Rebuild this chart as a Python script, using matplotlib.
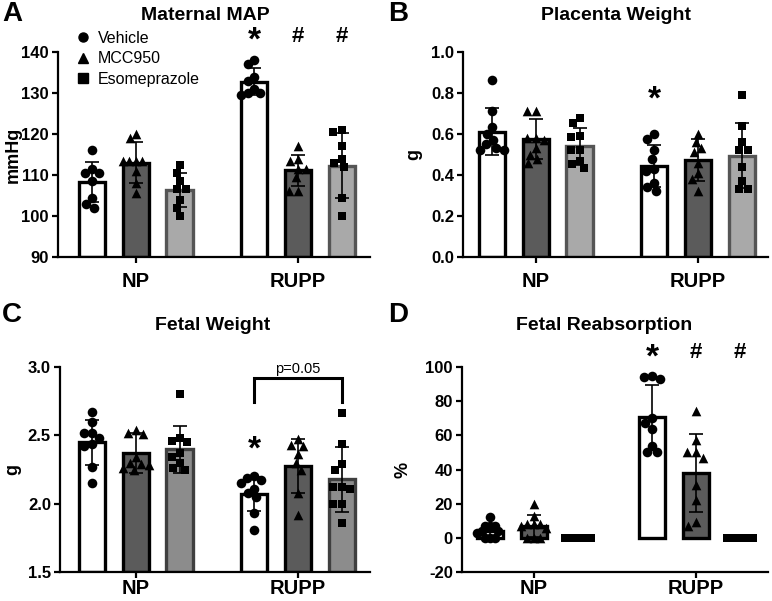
import matplotlib
matplotlib.use("Agg")
import matplotlib.pyplot as plt
from matplotlib.lines import Line2D
from matplotlib.transforms import ScaledTranslation
import numpy as np

plt.rcParams['font.family'] = ['Liberation Sans', 'DejaVu Sans']

groups = ["NP", "RUPP"]
treatments = ["Vehicle", "MCC950", "Esomeprazole"]
markers = ["o", "^", "s"]

# panel A - maternal MAP (mmHg)
map_points = {
    ("NP", "Vehicle"): [116, 110.5, 111.5, 110.5, 108.5, 104.5, 102, 103],
    ("NP", "MCC950"): [120, 119, 113.5, 113.5, 113.5, 113.5, 111, 108, 105.5],
    ("NP", "Esomeprazole"): [112.5, 110.5, 108.5, 106.5, 106.5, 104, 102, 100],
    ("RUPP", "Vehicle"): [138, 137, 134, 133, 131, 130, 130, 129.5],
    ("RUPP", "MCC950"): [117, 114, 113.5, 111.5, 111.5, 109.5, 106, 106],
    ("RUPP", "Esomeprazole"): [121, 120.5, 117, 114, 113, 112, 104.5, 100],
}
map_mean = [108.3, 113.0, 106.3, 132.8, 111.1, 112.3]
map_sd = [4.9, 5.0, 4.2, 3.4, 3.9, 8.0]

# panel B - placenta weight (g)
plac_points = {
    ("NP", "Vehicle"): [0.865, 0.71, 0.635, 0.60, 0.57, 0.55, 0.53, 0.52, 0.52],
    ("NP", "MCC950"): [0.71, 0.71, 0.58, 0.58, 0.57, 0.53, 0.50, 0.48, 0.46],
    ("NP", "Esomeprazole"): [0.68, 0.655, 0.59, 0.585, 0.52, 0.52, 0.47, 0.455, 0.435],
    ("RUPP", "Vehicle"): [0.60, 0.575, 0.52, 0.48, 0.43, 0.42, 0.36, 0.34, 0.32],
    ("RUPP", "MCC950"): [0.60, 0.56, 0.53, 0.51, 0.46, 0.41, 0.38, 0.32],
    ("RUPP", "Esomeprazole"): [0.79, 0.64, 0.56, 0.52, 0.52, 0.44, 0.37, 0.33, 0.33],
}
plac_mean = [0.611, 0.576, 0.541, 0.444, 0.473, 0.494]
plac_sd = [0.114, 0.096, 0.090, 0.102, 0.101, 0.158]

# panel C - fetal weight (g)
fetal_points = {
    ("NP", "Vehicle"): [2.67, 2.60, 2.52, 2.52, 2.48, 2.44, 2.42, 2.27, 2.15],
    ("NP", "MCC950"): [2.54, 2.52, 2.51, 2.34, 2.30, 2.29, 2.28, 2.26, 2.25],
    ("NP", "Esomeprazole"): [2.80, 2.48, 2.46, 2.45, 2.37, 2.34, 2.30, 2.26, 2.25],
    ("RUPP", "Vehicle"): [2.20, 2.19, 2.17, 2.15, 2.11, 2.08, 2.05, 1.93, 1.81],
    ("RUPP", "MCC950"): [2.47, 2.43, 2.42, 2.36, 2.30, 2.25, 2.08, 1.92],
    ("RUPP", "Esomeprazole"): [2.66, 2.44, 2.29, 2.25, 2.12, 2.11, 2.12, 2.00, 2.00, 1.86],
}
fetal_mean = [2.449, 2.373, 2.398, 2.071, 2.276, 2.178]
fetal_sd = [0.163, 0.147, 0.173, 0.124, 0.197, 0.239]

# panel D - fetal reabsorption (%)
reab_points = {
    ("NP", "Vehicle"): [12, 7, 7, 7, 4, 4, 3, 0, 0, 0],
    ("NP", "MCC950"): [20, 13, 8, 8, 8, 7, 6, 0, 0, 0],
    ("NP", "Esomeprazole"): [0, 0, 0, 0, 0, 0, 0, 0, 0],
    ("RUPP", "Vehicle"): [94, 93, 95, 70, 67, 64, 54, 50, 50],
    ("RUPP", "MCC950"): [74, 57, 50, 50, 47, 31, 22, 9, 7],
    ("RUPP", "Esomeprazole"): [0, 0, 0, 0, 0, 0, 0, 0, 0],
}
reab_mean = [4.2, 7.0, 0.0, 70.5, 38.0, 0.0]
reab_sd = [3.8, 6.6, 0.0, 18.8, 23.0, 0.0]

GAP = 3.7
BAR_W = 0.6
SPACING_PX = 43.8

# significance marks: (bar index, symbol, y in data units)
panels = [
    dict(letter="A", title="Maternal MAP", ylabel="mmHg", pts=map_points, mean=map_mean, sd=map_sd,
         ylim=(90, 140), yticks=np.arange(90, 141, 10), fmt="{:.0f}",
         px=(58, 370, 52, 257), title_x=205, title_y=15, letter_xy=(2, 14), ylab_x=13, xpad=6.5,
         eso_fill="#a9a9a9", eso_edge="#555555",
         marks=[(3, "*", 143.9), (4, "#", 143.9), (5, "#", 143.9)]),
    dict(letter="B", title="Placenta Weight", ylabel="g", pts=plac_points, mean=plac_mean, sd=plac_sd,
         ylim=(0, 1.0), yticks=np.arange(0, 1.01, 0.2), fmt="{:.1f}",
         px=(463, 768, 52, 257), title_x=616, title_y=15, letter_xy=(388, 14), ylab_x=414, xpad=6.5,
         eso_fill="#a9a9a9", eso_edge="#555555",
         marks=[(3, "*", 0.79)]),
    dict(letter="C", title="Fetal Weight", ylabel="g", pts=fetal_points, mean=fetal_mean, sd=fetal_sd,
         ylim=(1.5, 3.0), yticks=np.arange(1.5, 3.01, 0.5), fmt="{:.1f}",
         px=(60, 370, 367, 572), title_x=213, title_y=326, letter_xy=(2, 315), ylab_x=13, xpad=0.5,
         eso_fill="#8c8c8c", eso_edge="#3f3f3f",
         marks=[(3, "*", 2.43)]),
    dict(letter="D", title="Fetal Reabsorption", ylabel="%", pts=reab_points, mean=reab_mean, sd=reab_sd,
         ylim=(-20, 100), yticks=np.arange(-20, 101, 20), fmt="{:.0f}",
         px=(462, 768, 367, 572), title_x=604, title_y=326, letter_xy=(388, 315), ylab_x=403, xpad=0.5,
         eso_fill="#a9a9a9", eso_edge="#555555",
         marks=[(3, "*", 108.2), (4, "#", 108.2), (5, "#", 108.2)]),
]
first_bar_px = [92, 492, 92, 490]

W, H = 772, 601
fig = plt.figure(figsize=(W / 100, H / 100), dpi=100)


def swarm(values, y_px, d_px, max_px):
    # simple beeswarm in pixel units, returns x offsets in pixels
    ys = np.asarray(values, dtype=float) * y_px
    order = np.argsort(-ys)
    placed = []
    offs = np.zeros(len(values))
    for i in order:
        cands = [0.0]
        for j, xj in placed:
            dy = ys[i] - ys[j]
            if abs(dy) < d_px:
                dx = np.sqrt(d_px ** 2 - dy ** 2)
                cands += [xj + dx, xj - dx]
        ok = [c for c in cands
              if all((c - xj) ** 2 + (ys[i] - ys[j]) ** 2 >= d_px ** 2 - 1e-6 for j, xj in placed)]
        best = min(ok, key=lambda c: (abs(c), c))
        offs[i] = best
        placed.append((i, best))
    m = np.max(np.abs(offs)) if len(offs) else 0
    if m > max_px:
        offs = offs * max_px / m
    return offs


star_shift = ScaledTranslation(0, -5 / 100, fig.dpi_scale_trans)

for k, p in enumerate(panels):
    l, r, t, b = p["px"]
    ax = fig.add_axes([l / W, 1 - b / H, (r - l) / W, (b - t) / H])
    x0 = first_bar_px[k]
    ax.set_xlim((l - x0) / SPACING_PX, (r - x0) / SPACING_PX)
    ax.set_ylim(*p["ylim"])
    y_px = (b - t) / (p["ylim"][1] - p["ylim"][0])
    base = p["ylim"][0] if p["ylim"][0] > 0 else 0

    fills = ["white", "#5b5b5b", p["eso_fill"]]
    edges = ["black", "black", p["eso_edge"]]
    i = 0
    xs = []
    for gi, g in enumerate(groups):
        for ti, tr in enumerate(treatments):
            x = gi * GAP + ti
            xs.append(x)
            m = p["mean"][i]
            s = p["sd"][i]
            ax.bar(x, m - base, bottom=base, width=BAR_W, color=fills[ti], edgecolor=edges[ti],
                   linewidth=2.4, zorder=2)
            vals = p["pts"][(g, tr)]
            offs = swarm(vals, y_px, 8.5, 13) / SPACING_PX
            ax.scatter(x + offs, vals, marker=markers[ti], s=48 if ti < 2 else 40, color="black",
                       linewidths=0, zorder=3, clip_on=False)
            if s > 0:
                ax.errorbar(x, m, yerr=s, fmt="none", ecolor="black", elinewidth=1.2, capsize=5,
                            capthick=1.2, zorder=4)
            i += 1

    for idx, sym, yv in p["marks"]:
        if sym == "*":
            ax.text(xs[idx], yv, "*", ha="center", va="center", fontsize=24, fontweight="bold",
                    clip_on=False, transform=ax.transData + star_shift)
        else:
            ax.text(xs[idx], yv, "#", ha="center", va="center", fontsize=16, fontweight="bold",
                    clip_on=False)

    ax.set_xticks([1, 1 + GAP])
    ax.set_xticklabels(groups, fontsize=14.5, fontweight="bold")
    ax.set_yticks(p["yticks"])
    ax.set_yticklabels([p["fmt"].format(v) for v in p["yticks"]], fontsize=12, fontweight="bold")
    for sp in ["top", "right"]:
        ax.spines[sp].set_visible(False)
    for sp in ["left", "bottom"]:
        ax.spines[sp].set_linewidth(1.6)
    ax.tick_params(axis="y", length=4.5, width=1.6, pad=2)
    ax.tick_params(axis="x", length=4.5, width=1.6, pad=p["xpad"])
    ax.set_ylabel(p["ylabel"], fontsize=13, fontweight="bold", va="center")
    ax.yaxis.set_label_coords(p["ylab_x"] / W, 1 - (t + b) / 2 / H, transform=fig.transFigure)

    fig.text(p["title_x"] / W, 1 - p["title_y"] / H, p["title"], ha="center", va="center",
             fontsize=14, fontweight="bold")
    fig.text(p["letter_xy"][0] / W, 1 - p["letter_xy"][1] / H, p["letter"], ha="left", va="center",
             fontsize=20, fontweight="bold")

    if p["letter"] == "A":
        handles = [Line2D([], [], marker=mk, color="black", linestyle="none", markersize=6.5)
                   for mk in markers]
        ax.legend(handles, treatments, loc="upper left", bbox_to_anchor=(77 / W, 1 - 31 / H),
                  bbox_transform=fig.transFigure, frameon=False, fontsize=11.5, handlelength=0.8,
                  handletextpad=0.5, labelspacing=0.33, borderpad=0, borderaxespad=0)
    if p["letter"] == "C":
        x1, x2 = xs[3], xs[5]
        ytop, ybot = 2.917, 2.746
        ax.plot([x1, x1, x2, x2], [ybot, ytop, ytop, ybot], color="black", linewidth=2.2,
                clip_on=False, solid_joinstyle="miter")
        ax.text((x1 + x2) / 2, 2.985, "p=0.05", ha="center", va="center", fontsize=10.5, clip_on=False)

fig.savefig("out.png", dpi=100)
